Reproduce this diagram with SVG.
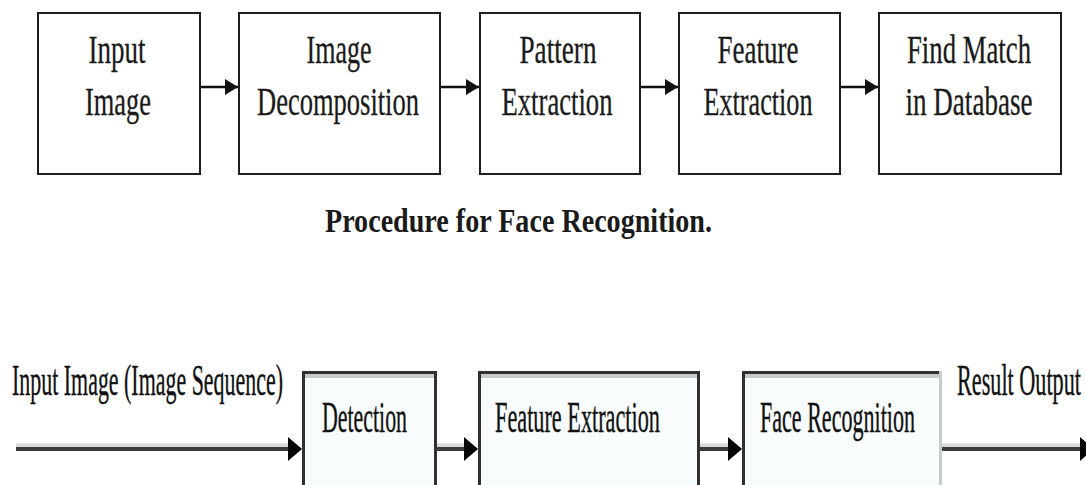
<svg xmlns="http://www.w3.org/2000/svg" width="1086" height="485" viewBox="0 0 1086 485">
  <defs>
    <marker id="arrowTop" markerWidth="13" markerHeight="16" refX="13" refY="8" orient="auto" markerUnits="userSpaceOnUse">
      <path d="M0,0 L13,8 L0,16 Z" fill="#111"/>
    </marker>
    <style>
      .box { fill: #ffffff; stroke: #1e1e1e; stroke-width: 2; }
      .lbl { font-family: "Liberation Serif", "Times New Roman", serif; font-size: 40px; fill: #1a1a1a; text-anchor: middle; stroke: #1a1a1a; stroke-width: 0.3; }
      .cap { font-family: "Liberation Serif", "Times New Roman", serif; font-size: 34px; font-weight: bold; fill: #1a1a1a; }
      .flow { stroke: #111; stroke-width: 2.5; fill: none; }
      .sbox { fill: #f8fcfd; }
      .sdark { fill: #303030; }
      .slight { fill: #c6cbcb; }
      .slbl { font-family: "Liberation Serif", "Times New Roman", serif; font-size: 44px; fill: #111; stroke: #111; stroke-width: 0.4; }
      .shaft-l { fill: #d8d8d8; }
      .shaft-d { fill: #3c3c3c; }
      .head { fill: #050505; }
    </style>
  </defs>

  <rect width="1086" height="485" fill="#ffffff"/>

  <!-- upper pipeline: procedure for face recognition -->
  <g id="input-image">
    <rect class="box" x="38" y="13" width="162" height="161"/>
    <text class="lbl" x="117" y="63" textLength="57" lengthAdjust="spacingAndGlyphs">Input</text>
    <text class="lbl" x="118" y="115" textLength="66" lengthAdjust="spacingAndGlyphs">Image</text>
  </g>
  <g id="image-decomposition">
    <rect class="box" x="239" y="13" width="201" height="161"/>
    <text class="lbl" x="339" y="63" textLength="65" lengthAdjust="spacingAndGlyphs">Image</text>
    <text class="lbl" x="338" y="115" textLength="162" lengthAdjust="spacingAndGlyphs">Decomposition</text>
  </g>
  <g id="pattern-extraction">
    <rect class="box" x="480" y="13" width="160" height="161"/>
    <text class="lbl" x="558" y="63" textLength="77" lengthAdjust="spacingAndGlyphs">Pattern</text>
    <text class="lbl" x="557" y="115" textLength="111" lengthAdjust="spacingAndGlyphs">Extraction</text>
  </g>
  <g id="feature-extraction">
    <rect class="box" x="679" y="13" width="161" height="161"/>
    <text class="lbl" x="758" y="63" textLength="81" lengthAdjust="spacingAndGlyphs">Feature</text>
    <text class="lbl" x="758" y="115" textLength="109" lengthAdjust="spacingAndGlyphs">Extraction</text>
  </g>
  <g id="find-match">
    <rect class="box" x="879" y="13" width="182" height="161"/>
    <text class="lbl" x="969" y="63" textLength="124" lengthAdjust="spacingAndGlyphs">Find Match</text>
    <text class="lbl" x="969" y="115" textLength="127" lengthAdjust="spacingAndGlyphs">in Database</text>
  </g>

  <g id="connectors-top">
    <line class="flow" x1="200" y1="87" x2="238" y2="87" marker-end="url(#arrowTop)"/>
    <line class="flow" x1="440" y1="87" x2="479" y2="87" marker-end="url(#arrowTop)"/>
    <line class="flow" x1="640" y1="87" x2="678" y2="87" marker-end="url(#arrowTop)"/>
    <line class="flow" x1="840" y1="87" x2="878" y2="87" marker-end="url(#arrowTop)"/>
  </g>

  <text id="caption" class="cap" x="325" y="232" textLength="387" lengthAdjust="spacingAndGlyphs">Procedure for Face Recognition.</text>

  <!-- lower pipeline: detection, features, recognition -->
  <g id="detection">
    <rect class="sbox" x="302" y="371" width="135" height="120"/>
    <rect class="sdark" x="302" y="371" width="135" height="3"/>
    <rect class="slight" x="305" y="374" width="129" height="4"/>
    <rect class="sdark" x="302" y="371" width="3" height="120"/>
    <rect class="sdark" x="434" y="371" width="3" height="120"/>
    <text class="slbl" x="322" y="432" textLength="85" lengthAdjust="spacingAndGlyphs">Detection</text>
  </g>
  <g id="feature-extraction-2">
    <rect class="sbox" x="478" y="371" width="222" height="120"/>
    <rect class="sdark" x="478" y="371" width="222" height="3"/>
    <rect class="slight" x="481" y="374" width="216" height="4"/>
    <rect class="sdark" x="478" y="371" width="3" height="120"/>
    <rect class="sdark" x="697" y="371" width="3" height="120"/>
    <text class="slbl" x="495" y="432" textLength="165" lengthAdjust="spacingAndGlyphs">Feature Extraction</text>
  </g>
  <g id="face-recognition">
    <rect class="sbox" x="742" y="371" width="200" height="120"/>
    <rect class="sdark" x="742" y="371" width="200" height="3"/>
    <rect class="slight" x="745" y="374" width="194" height="4"/>
    <rect class="sdark" x="742" y="371" width="3" height="120"/>
    <rect class="slight" x="939" y="371" width="3" height="120"/>
    <text class="slbl" x="760" y="432" textLength="155" lengthAdjust="spacingAndGlyphs">Face Recognition</text>
  </g>

  <g id="connectors-bottom">
    <rect class="shaft-l" x="16" y="443.5" width="272" height="3.5"/>
    <rect class="shaft-d" x="16" y="447" width="272" height="4"/>
    <path class="head" d="M288,437 L302,449 L288,461 Z"/>

    <rect class="shaft-l" x="437" y="443.5" width="27" height="3.5"/>
    <rect class="shaft-d" x="437" y="447" width="27" height="4"/>
    <path class="head" d="M464,437 L478,449 L464,461 Z"/>

    <rect class="shaft-l" x="700" y="443.5" width="28" height="3.5"/>
    <rect class="shaft-d" x="700" y="447" width="28" height="4"/>
    <path class="head" d="M728,437 L742,449 L728,461 Z"/>

    <rect class="shaft-l" x="942" y="443.5" width="139" height="3.5"/>
    <rect class="shaft-d" x="942" y="447" width="139" height="4"/>
    <path class="head" d="M1080,437 L1094,449 L1080,461 Z"/>
  </g>

  <text id="input-label" class="slbl" x="12" y="395" textLength="271" lengthAdjust="spacingAndGlyphs">Input Image (Image Sequence)</text>
  <text id="output-label" class="slbl" x="957" y="395" textLength="124" lengthAdjust="spacingAndGlyphs">Result Output</text>
</svg>
